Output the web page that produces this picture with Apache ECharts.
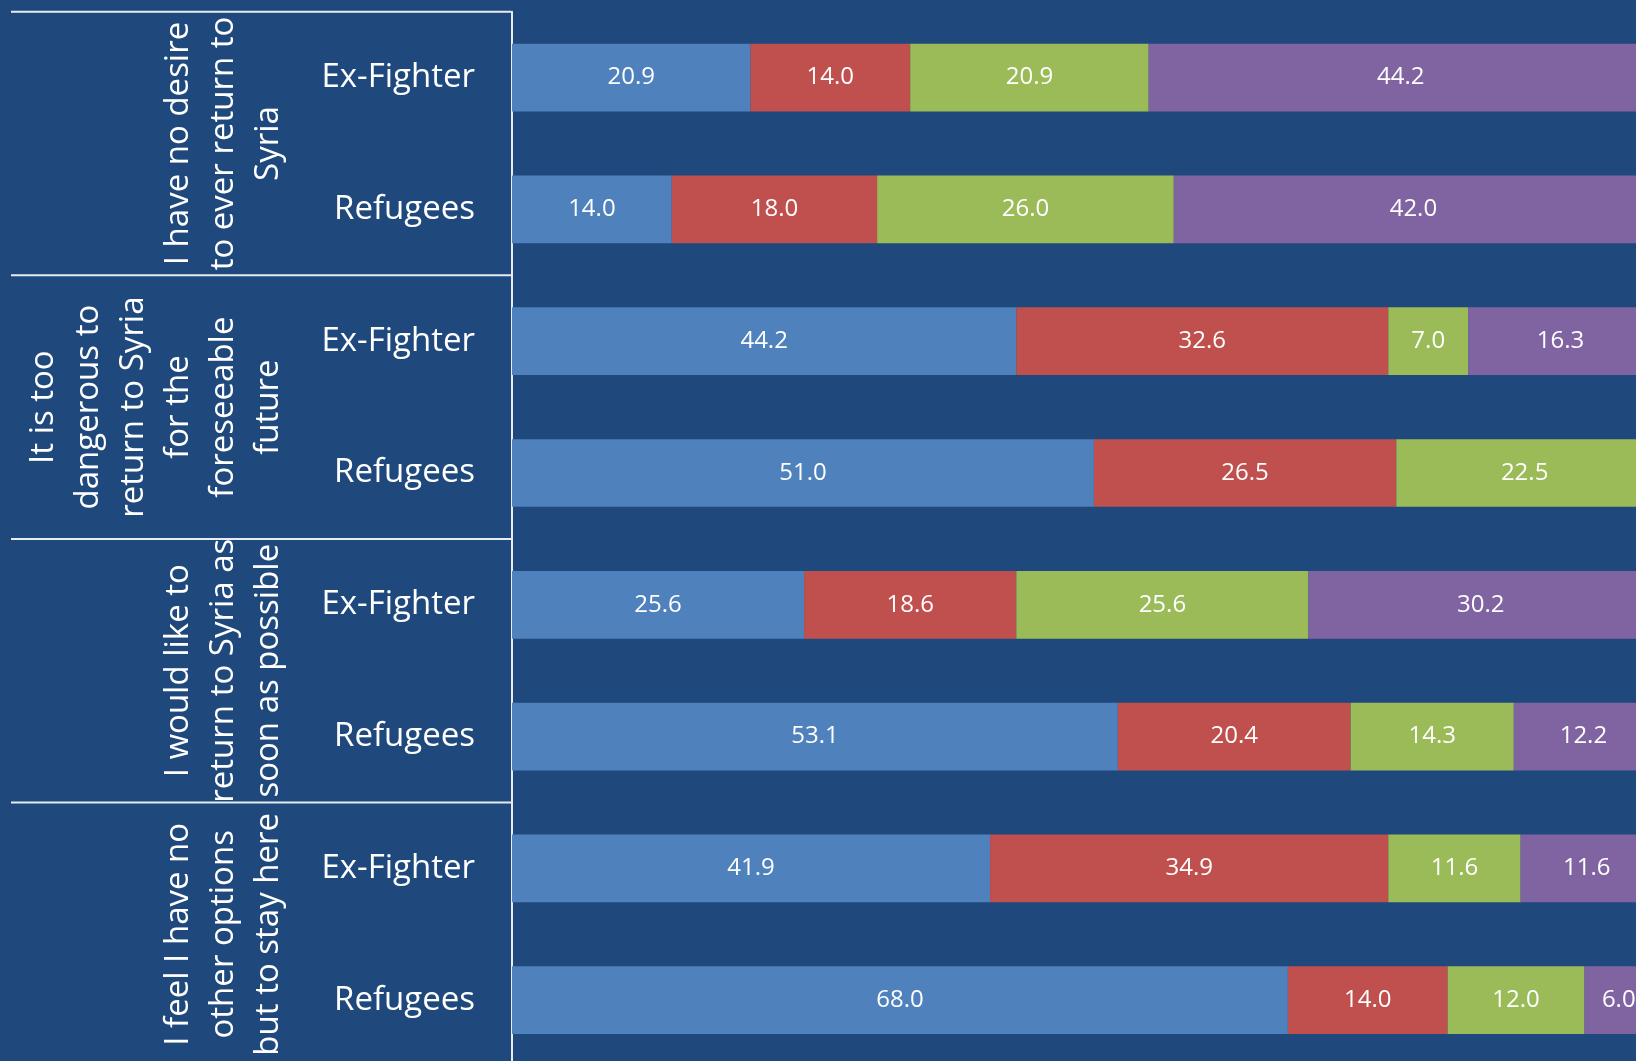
<!DOCTYPE html>
<html>
<head>
<meta charset="utf-8">
<script src="https://cdn.jsdelivr.net/npm/echarts@6/dist/echarts.min.js"></script>
<style>
	html, body { margin: 0; padding: 0; background: #1F497D; }
	#main { width: 1636px; height: 1061px; }
</style>
</head>
<body>
<div id="main"></div>
<script>
// rows, top to bottom
var categories = ['Ex-Fighter', 'Refugees', 'Ex-Fighter', 'Refugees', 'Ex-Fighter', 'Refugees', 'Ex-Fighter', 'Refugees'];
var groups = [
	'I have no desire\nto ever return to\nSyria',
	'It is too\ndangerous to\nreturn to Syria\nfor the\nforeseeable\nfuture',
	'I would like to\nreturn to Syria as\nsoon as possible',
	'I feel I have no\nother options\nbut to stay here'
];
var seriesNames = ['Strongly agree', 'Agree', 'Disagree', 'Strongly disagree'];
var colors = ['#4F81BD', '#C0504D', '#9BBB59', '#8064A2'];

var s1 = [20.9, 14.0, 44.2, 51.0, 25.6, 53.1, 41.9, 68.0];
var s2 = [14.0, 18.0, 32.6, 26.5, 18.6, 20.4, 34.9, 14.0];
var s3 = [20.9, 26.0, 7.0, 22.5, 25.6, 14.3, 11.6, 12.0];
var s4 = [44.2, 42.0, 16.3, null, 30.2, 12.2, 11.6, 6.0];
var values = [s1, s2, s3, s4];

function createChart()
{
	var dom = document.getElementById('main');
	var myChart = echarts.init(dom);

	var series = [];
	for (var i = 0; i < values.length; i++) {
		series.push({
			name: seriesNames[i],
			type: 'bar',
			stack: 'total',
			data: values[i],
			barCategoryGap: '48.6%',
			itemStyle: { color: colors[i] },
			label: {
				show: true,
				position: 'inside',
				color: '#ffffff',
				fontFamily: 'Open Sans',
				fontSize: 24,
				padding: [4, 0, 0, 0],
				formatter: function (p) { return p.value == null ? '' : p.value.toFixed(1); }
			},
			animation: false
		});
	}

	var option = {
		backgroundColor: '#1F497D',
		// plot runs a little past the right and bottom edges, as in the picture
		grid: { left: 512, top: 11.7, width: 1141, height: 1054.4, outerBoundsMode: 'none' },
		xAxis: {
			type: 'value',
			min: 0,
			max: 100,
			show: false
		},
		yAxis: {
			type: 'category',
			data: categories,
			inverse: true,
			axisTick: { show: false },
			axisLine: { show: true, lineStyle: { color: '#e8ecf2', width: 2 } },
			axisLabel: {
				color: '#ffffff',
				fontFamily: 'Open Sans',
				fontSize: 33,
				margin: 37,
				padding: [4, 0, 0, 0]
			},
			splitLine: { show: false }
		},
		series: series
	};

	myChart.setOption(option, true);

	// left panel: lines and group labels placed from the category axis
	var p0 = myChart.convertToPixel({ yAxisIndex: 0 }, 0);
	var p1 = myChart.convertToPixel({ yAxisIndex: 0 }, 1);
	var band = p1 - p0;
	var graphics = [];

	for (var g = 0; g < groups.length; g++) {
		var yTop = myChart.convertToPixel({ yAxisIndex: 0 }, g * 2) - band / 2;
		var yMid = yTop + band;
		graphics.push({
			type: 'line',
			shape: { x1: 11, y1: yTop, x2: 511, y2: yTop },
			style: { stroke: '#e8ecf2', lineWidth: 2 },
			silent: true
		});
		graphics.push({
			type: 'text',
			x: 291,
			y: yMid,
			rotation: Math.PI / 2,
			style: {
				text: groups[g],
				fill: '#ffffff',
				font: '33px "Open Sans"',
				lineHeight: 45,
				align: 'center',
				verticalAlign: 'bottom'
			},
			silent: true
		});
	}

	myChart.setOption({ graphic: graphics });
}

createChart();
</script>
</body>
</html>
